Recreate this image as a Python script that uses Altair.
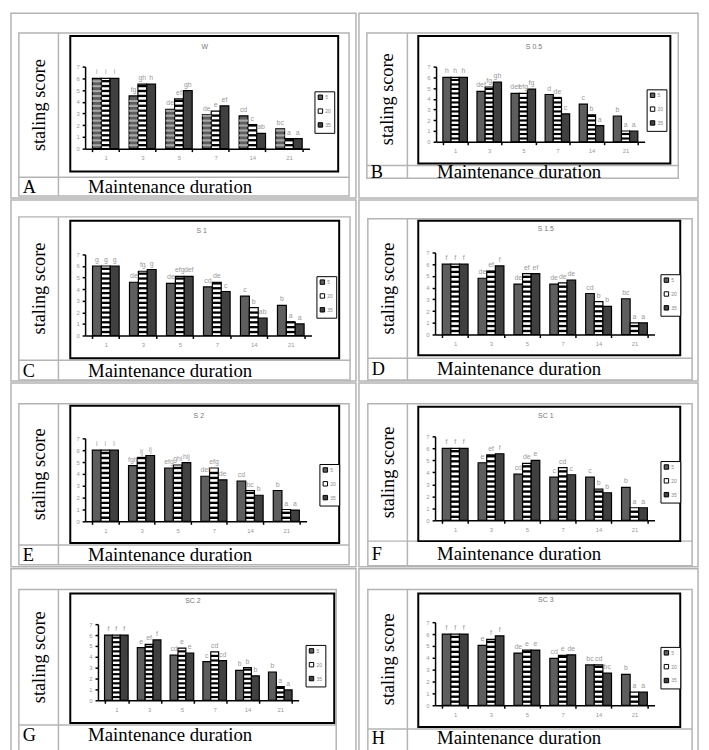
import altair as alt
import pandas as pd

OFF = 8
SERIF = "Liberation Serif"
SANS = "Liberation Sans"

categories = ["1", "3", "5", "7", "14", "21"]
series = ["5", "20", "35"]
panel_keys = ["A", "B", "C", "D", "E", "F", "G", "H"]
panel_titles = ["W", "S 0.5", "S 1", "S 1.5", "S 2", "SC 1", "SC 2", "SC 3"]

# staling score per panel, per series (5, 20, 35), per day
vals_A = [[6, 4.5, 3.35, 2.9, 2.8, 1.7], [6, 5.5, 4.25, 3.2, 2.05, 0.85], [6, 5.5, 4.95, 3.65, 1.3, 0.85]]
vals_B = [[6, 4.7, 4.5, 4.4, 3.5, 2.4], [6, 5.1, 4.5, 4.1, 2.5, 1.0], [6, 5.55, 4.9, 2.6, 1.5, 1.0]]
vals_C = [[6, 4.6, 4.5, 4.2, 3.4, 2.6], [6, 5.55, 5.1, 4.6, 2.4, 1.15], [6, 5.7, 5.1, 3.8, 1.5, 1.0]]
vals_D = [[6, 4.8, 4.3, 4.3, 3.5, 3.05], [6, 5.4, 5.2, 4.4, 2.8, 1.0], [6, 5.85, 5.2, 4.65, 2.4, 1.0]]
vals_E = [[6, 4.7, 4.5, 3.8, 3.4, 2.6], [6, 5.35, 4.75, 4.5, 2.6, 1.0], [6, 5.55, 4.95, 3.5, 2.2, 0.95]]
vals_F = [[6, 4.8, 3.85, 3.6, 3.6, 2.75], [6, 5.45, 4.75, 4.4, 2.6, 1.05], [6, 5.55, 5.0, 3.8, 2.3, 1.05]]
vals_G = [[6, 4.85, 4.15, 3.55, 2.75, 2.6], [6, 5.15, 4.8, 4.45, 3.0, 1.25], [6, 5.55, 4.35, 3.65, 2.25, 0.95]]
vals_H = [[6, 5.05, 4.4, 3.95, 3.4, 2.6], [6, 5.55, 4.65, 4.2, 3.4, 1.1], [6, 5.85, 4.65, 4.25, 2.7, 1.1]]

let_A = [["i", "fg", "de", "de", "cd", "bc"], ["i", "gh", "ef", "e", "c", "a"], ["i", "h", "gh", "ef", "ab", "a"]]
let_B = [["h", "def", "def", "d", "c", "b"], ["h", "fg", "efg", "de", "b", "a"], ["h", "gh", "fg", "c", "a", "a"]]
let_C = [["g", "de", "de", "cd", "c", "b"], ["g", "fg", "efg", "de", "b", "a"], ["g", "g", "def", "c", "ab", "a"]]
let_D = [["f", "de", "de", "de", "cd", "bc"], ["f", "ef", "ef", "de", "b", "a"], ["f", "f", "ef", "de", "b", "a"]]
let_E = [["i", "fgh", "efg", "def", "cd", "b"], ["i", "ij", "ghi", "efg", "bc", "a"], ["i", "ij", "hij", "de", "b", "a"]]
let_F = [["f", "e", "cd", "c", "c", "b"], ["f", "ef", "de", "cd", "b", "a"], ["f", "f", "e", "c", "b", "a"]]
let_G = [["f", "e", "cd", "c", "b", "b"], ["f", "ef", "e", "cd", "b", "a"], ["f", "f", "e", "cd", "b", "a"]]
let_H = [["f", "e", "de", "cd", "bc", "b"], ["f", "f", "e", "e", "cd", "a"], ["f", "f", "e", "de", "bc", "a"]]

VALUES = dict(zip(panel_keys, [vals_A, vals_B, vals_C, vals_D, vals_E, vals_F, vals_G, vals_H]))
LETTERS = dict(zip(panel_keys, [let_A, let_B, let_C, let_D, let_E, let_F, let_G, let_H]))
TITLES = dict(zip(panel_keys, panel_titles))

# layout (page pixel coordinates)
GEOM = {
    "A": dict(cell=(11, 9, 360, 196), tbl=(19, 29, 353, 194), div=59, row=175, lab=185,
              box=(71, 32, 342, 169), ax=(86, 313, 146, 63), leg=(318, 88), title=(207, 43)),
    "B": dict(cell=(363, 9, 706, 196), tbl=(371, 29, 686, 176), div=412, row=163, lab=170,
              box=(423, 32, 678, 161), ax=(441, 652, 139, 63), leg=(654, 86), title=(540, 43)),
    "C": dict(cell=(11, 198, 360, 381), tbl=(19, 215, 354, 380), div=59, row=360, lab=371,
              box=(71, 219, 343, 358), ax=(86, 315, 335, 253), leg=(320, 275), title=(204, 229)),
    "D": dict(cell=(363, 198, 706, 381), tbl=(372, 217, 700, 380), div=412, row=358, lab=369,
              box=(423, 219, 688, 355), ax=(440, 662, 334, 251), leg=(668, 273), title=(552, 227)),
    "E": dict(cell=(11, 383, 360, 569), tbl=(19, 404, 353, 567), div=59, row=547, lab=557,
              box=(71, 406, 343, 545), ax=(86, 310, 523, 439), leg=(323, 465), title=(201, 416)),
    "F": dict(cell=(363, 383, 706, 569), tbl=(372, 404, 700, 568), div=412, row=543, lab=556,
              box=(423, 407, 688, 543), ax=(440, 662, 522, 437), leg=(668, 462), title=(552, 416)),
    "G": dict(cell=(11, 571, 360, 760), tbl=(19, 592, 340, 760), div=59, row=729, lab=739,
              box=(71, 596, 338, 727), ax=(99, 302, 704, 627), leg=(309, 648), title=(195, 604)),
    "H": dict(cell=(363, 571, 706, 760), tbl=(372, 592, 700, 760), div=412, row=733, lab=742,
              box=(423, 596, 688, 731), ax=(440, 662, 709, 625), leg=(668, 650), title=(552, 603)),
}

W, H = 701, 742
DUMMY = pd.DataFrame({"d": [0]})
GRID = "#b4b4b4"
C1, C2, C3 = "#5e5e5e", "#ffffff", "#404040"


def dc():
    return alt.Chart(DUMMY)


def box(x1, y1, x2, y2, stroke, sw, fill="white", op=0.0):
    return dc().mark_rect(stroke=stroke, strokeWidth=sw, fill=fill, fillOpacity=op).encode(
        x=alt.value(x1 - OFF), x2=alt.value(x2 - OFF), y=alt.value(y1 - OFF), y2=alt.value(y2 - OFF))


def vline(x, y1, y2, color=GRID, sw=1.5):
    return dc().mark_rule(color=color, strokeWidth=sw).encode(
        x=alt.value(x - OFF), y=alt.value(y1 - OFF), y2=alt.value(y2 - OFF))


def hline(y, x1, x2, color=GRID, sw=1.5):
    return dc().mark_rule(color=color, strokeWidth=sw).encode(
        y=alt.value(y - OFF), x=alt.value(x1 - OFF), x2=alt.value(x2 - OFF))


def label(txt, x, y, size, color="black", angle=0, align="center", font=SERIF):
    return dc().mark_text(text=txt, fontSize=size, font=font, color=color, angle=angle,
                          align=align, baseline="middle").encode(
        x=alt.value(x - OFF), y=alt.value(y - OFF))


decor = []
for k in panel_keys:
    g = GEOM[k]
    cx1, cy1, cx2, cy2 = g["cell"]
    tx1, ty1, tx2, ty2 = g["tbl"]
    bx1, by1, bx2, by2 = g["box"]
    decor.append(box(cx1, cy1, cx2, cy2, GRID, 1.5))
    decor.append(box(tx1, ty1, tx2, ty2, GRID, 1.5))
    decor.append(vline(g["div"], ty1, ty2))
    decor.append(hline(g["row"], tx1, tx2))
    decor.append(box(bx1, by1, bx2, by2, "black", 2, fill="white", op=1.0))
    decor.append(label("staling score", (tx1 + g["div"]) / 2, (ty1 + g["row"]) / 2, 18.5, angle=270))
    decor.append(label(k, tx1 + 4, g["lab"], 18.5, align="left"))
    decor.append(label("Maintenance duration", g["div"] + 30, g["lab"], 19, align="left"))
    decor.append(label(TITLES[k], g["title"][0], g["title"][1], 7, color="#777777", font=SANS))


def panel(k):
    g = GEOM[k]
    rows = []
    for si, s in enumerate(series):
        for ci, c in enumerate(categories):
            rows.append({"day": c, "conc": s, "score": VALUES[k][si][ci], "letter": LETTERS[k][si][ci]})
    df = pd.DataFrame(rows)
    x0, x1, y0, y7 = g["ax"]
    lx, ly = g["leg"]
    xaxis = alt.Axis(orient="bottom", offset=(y0 - OFF) - H, title=None, labelAngle=0,
                     tickBand="extent", labelFontSize=6, labelColor="#999999", labelFont=SANS,
                     domainColor="black", domainWidth=1.5, tickColor="black", tickSize=3, tickWidth=1.5,
                     labelPadding=3, grid=False, zindex=2)
    yaxis = alt.Axis(orient="left", offset=-(x0 - OFF), title=None, values=list(range(8)),
                     labelFontSize=6, labelColor="#999999", labelFont=SANS, domainColor="black",
                     domainWidth=1.5, tickColor="black", tickSize=3, tickWidth=1.5, labelPadding=3,
                     grid=False, zindex=2)
    xs = alt.X("day:N", sort=categories,
               scale=alt.Scale(domain=categories, range=[x0 - OFF, x1 - OFF], paddingInner=0.28, paddingOuter=0.2),
               axis=xaxis)
    xo = alt.XOffset("conc:N", sort=series, scale=alt.Scale(domain=series, paddingInner=0, paddingOuter=0))
    yscale = alt.Scale(domain=[0, 7], range=[y0 - OFF, y7 - OFF], nice=False, zero=True)
    base = alt.Chart(df)
    bars = base.mark_bar(stroke="black", strokeWidth=1.2).encode(
        x=xs, xOffset=xo,
        y=alt.Y("score:Q", scale=yscale, axis=yaxis),
        fill=alt.Fill("conc:N", sort=series, scale=alt.Scale(domain=series, range=[C1, C2, C3]),
                      legend=alt.Legend(orient="none", legendX=lx - OFF, legendY=ly - OFF, title=None,
                                        direction="vertical", symbolType="square", symbolSize=20,
                                        symbolStrokeColor="black", symbolStrokeWidth=1, labelFontSize=5,
                                        labelColor="#888888", labelFont=SANS, padding=3, rowPadding=4,
                                        labelOffset=2, strokeColor="black", fillColor="white")),
    )
    stripes = base.transform_filter(alt.datum.conc == "20").transform_calculate(
        seq="sequence(0.2, datum.score - 0.1, 0.42)"
    ).transform_flatten(["seq"]).transform_calculate(seq2="datum.seq + 0.2").mark_bar(color="black").encode(
        x=xs, xOffset=xo,
        y=alt.Y("seq:Q", scale=yscale, axis=yaxis), y2="seq2:Q",
    )
    layers = [bars, stripes]
    if k == "A":
        stripes1 = base.transform_filter(alt.datum.conc == "5").transform_calculate(
            seq="sequence(0.2, datum.score - 0.1, 0.42)"
        ).transform_flatten(["seq"]).transform_calculate(seq2="datum.seq + 0.18").mark_bar(color="#a8a8a8").encode(
            x=xs, xOffset=xo,
            y=alt.Y("seq:Q", scale=yscale, axis=yaxis), y2="seq2:Q",
        )
        layers.append(stripes1)
    texts = base.mark_text(fontSize=7, color="#9a9a9a", font=SANS, baseline="bottom", dy=-3).encode(
        x=xs, xOffset=xo,
        y=alt.Y("score:Q", scale=yscale, axis=yaxis),
        text="letter:N",
    )
    layers.append(texts)
    return alt.layer(*layers)


panels = [panel(k) for k in panel_keys]

chart = alt.layer(*decor, *panels).resolve_scale(
    x="independent", y="independent", xOffset="independent", fill="independent"
).resolve_axis(x="independent", y="independent").resolve_legend(fill="independent").properties(
    width=W, height=H, autosize="none", padding=0
).configure_view(strokeWidth=0)

chart.save("out.html", embed_options={"renderer": "svg", "actions": False})
